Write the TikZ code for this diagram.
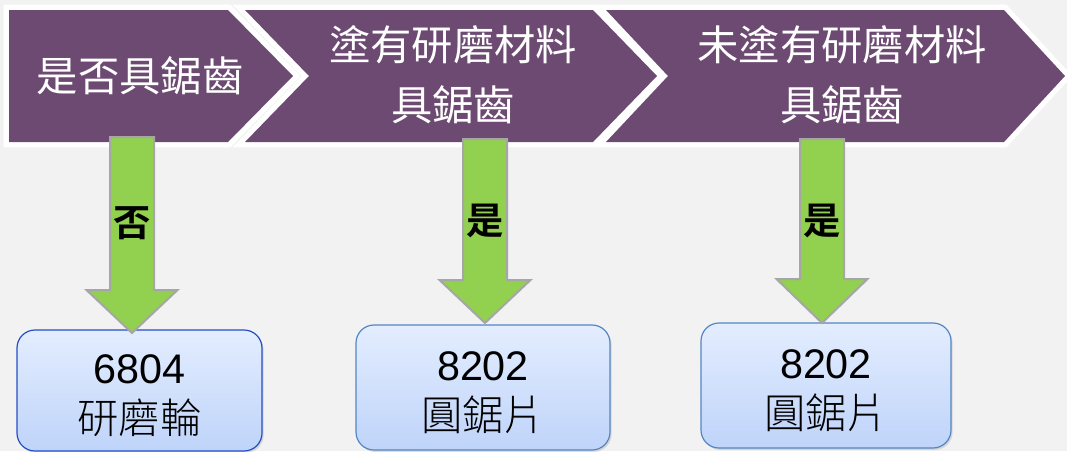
\documentclass[tikz,border=0pt]{standalone}
\usepackage{fontspec}
\setmainfont{Liberation Sans}
\newfontfamily\cjk[BoldFont={Noto Sans CJK TC Bold}]{Noto Sans CJK TC}
\newfontfamily\cjklight{Noto Sans CJK TC Light}
\usetikzlibrary{shadows}
\definecolor{bggray}{RGB}{242,242,242}
\definecolor{chevpurple}{RGB}{108,74,114}
\definecolor{arrgreen}{RGB}{146,208,80}
\definecolor{arrgray}{RGB}{166,166,166}
\definecolor{boxtop}{RGB}{227,237,254}
\definecolor{boxbottom}{RGB}{191,212,250}
\definecolor{boxblue}{RGB}{84,134,196}
\definecolor{boxdeep}{RGB}{36,78,200}
\newcommand{\toppad}{\rule{0pt}{30pt}}
\begin{document}
\begin{tikzpicture}[x=0.75pt, y=-0.75pt, line join=round, line cap=round,
	chev/.style={fill=chevpurple, preaction={draw=white, line width=8pt, line join=miter}},
	head/.style={text=white, font=\cjk\fontsize{31}{45}\selectfont, align=center},
	fatarrow/.style={fill=arrgreen, draw=arrgray, line width=1.5pt, line join=miter},
	answer/.style={font=\cjk\bfseries\fontsize{28}{30}\selectfont},
	outbox/.style={rounded corners=13.5pt, top color=boxtop, bottom color=boxbottom,
		draw=boxblue, line width=0.9pt, align=center, inner sep=0pt,
		drop shadow={opacity=0.25, shadow xshift=1.2pt, shadow yshift=-1.5pt},
		font=\fontsize{31}{37.5}\selectfont}]
	% background
	\fill[bggray] (0,0) rectangle (1067,451);
	\useasboundingbox (0,0) rectangle (1067,451);
	% chevrons
	\path[chev] (9,10) -- (228,10) -- (293,76) -- (228,142) -- (9,142) -- cycle;
	\path[chev] (245,10) -- (593,10) -- (657,76) -- (593,142) -- (245,142) -- (309,76) -- cycle;
	\path[chev] (606,10) -- (1004,10) -- (1065,76) -- (1004,142) -- (606,142) -- (668,76) -- cycle;
	\node[head] (q1) at (140,76) {是否具鋸齒};
	\node[head] (q2) at (453,75) {塗有研磨材料\\具鋸齒};
	\node[head] (q3) at (842,75) {未塗有研磨材料\\具鋸齒};
	% results
	\node[outbox, draw=boxdeep, minimum width=183.75pt, minimum height=90.75pt] (r1) at (139.5,390.5)
		{\toppad 6804\\{\cjklight 研磨輪}};
	\node[outbox, minimum width=190.5pt, minimum height=93.75pt] (r2) at (483,387.5)
		{\toppad 8202\\{\cjklight 圓鋸片}};
	\node[outbox, minimum width=187.5pt, minimum height=93.75pt] (r3) at (826,385.5)
		{\toppad 8202\\{\cjklight 圓鋸片}};
	% arrows
	\coordinate (a1) at (132,333);
	\coordinate (a2) at (485,323);
	\coordinate (a3) at (822,323);
	\draw[fatarrow] (a1) -- ++(-45.5,-43) -- ++(23.5,0) -- ++(0,-153) -- ++(44,0)
		-- ++(0,153) -- ++(23.5,0) -- cycle;
	\draw[fatarrow] (a2) -- ++(-45.5,-43) -- ++(23.5,0) -- ++(0,-141) -- ++(44,0)
		-- ++(0,141) -- ++(23.5,0) -- cycle;
	\draw[fatarrow] (a3) -- ++(-45.5,-44) -- ++(23.5,0) -- ++(0,-140) -- ++(44,0)
		-- ++(0,140) -- ++(23.5,0) -- cycle;
	\node[answer] (l1) at (132,223) {否};
	\node[answer] (l2) at (485,221) {是};
	\node[answer] (l3) at (822,221) {是};
\end{tikzpicture}
\end{document}
